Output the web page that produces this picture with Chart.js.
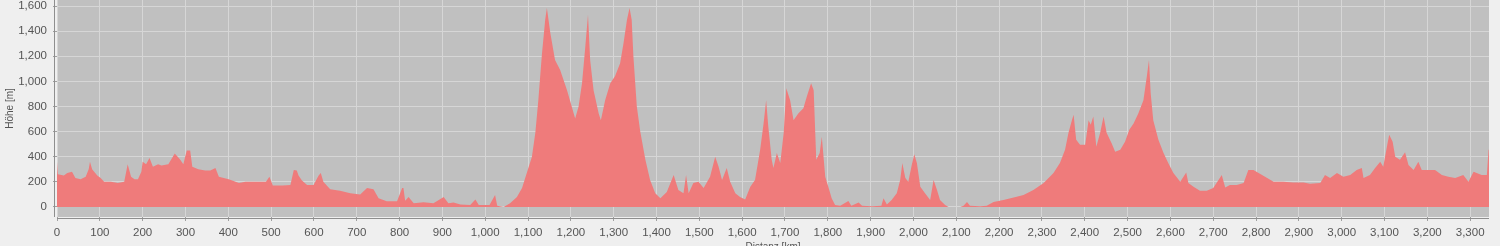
<!DOCTYPE html>
<html>
<head>
<meta charset="utf-8">
<title>Höhenprofil</title>
<script src="https://cdn.jsdelivr.net/npm/chart.js@4/dist/chart.umd.min.js"></script>
<style>
  html, body { margin: 0; padding: 0; background: #efefef; overflow: hidden; }
  canvas { display: block; }
</style>
</head>
<body>
<canvas id="chart" width="1500" height="246"></canvas>
<script>
const distKm = [
  0, 2, 16, 24, 35, 43, 55, 67, 74, 77, 82, 94, 102, 110, 126, 142, 157, 165, 173, 181,
  189, 197, 200, 208, 216, 224, 236, 244, 260, 275, 287, 295, 303, 311, 316, 330, 346, 358, 370, 378,
  401, 425, 440, 464, 488, 496, 504, 527, 545, 553, 560, 564, 572, 584, 599, 611, 616, 622, 638, 661,
  685, 708, 724, 739, 751, 770, 794, 806, 809, 813, 821, 833, 856, 879, 903, 914, 926, 942, 965, 977,
  985, 1010, 1023, 1028, 1043, 1058, 1074, 1086, 1097, 1109, 1117, 1124, 1132, 1140, 1144, 1152, 1163, 1175, 1191, 1202,
  1210, 1218, 1226, 1233, 1240, 1245, 1253, 1265, 1270, 1280, 1292, 1303, 1315, 1323, 1331, 1337, 1342, 1346, 1354, 1362,
  1374, 1385, 1397, 1409, 1424, 1440, 1451, 1463, 1469, 1475, 1486, 1498, 1510, 1525, 1537, 1545, 1553, 1564, 1572, 1584,
  1595, 1607, 1619, 1630, 1642, 1650, 1656, 1661, 1669, 1673, 1681, 1689, 1697, 1703, 1712, 1720, 1731, 1743, 1751, 1761,
  1767, 1773, 1781, 1786, 1794, 1802, 1809, 1817, 1829, 1848, 1855, 1872, 1880, 1903, 1925, 1930, 1938, 1949, 1961, 1969,
  1974, 1981, 1988, 1996, 2002, 2008, 2016, 2027, 2039, 2047, 2055, 2062, 2074, 2082, 2109, 2117, 2125, 2132, 2156, 2171,
  2187, 2210, 2234, 2257, 2280, 2304, 2327, 2342, 2354, 2362, 2370, 2374, 2380, 2389, 2401, 2409, 2414, 2420, 2427, 2436,
  2444, 2451, 2463, 2471, 2483, 2494, 2504, 2514, 2525, 2537, 2545, 2550, 2554, 2560, 2572, 2584, 2595, 2607, 2623, 2637,
  2642, 2654, 2669, 2685, 2700, 2720, 2728, 2739, 2755, 2771, 2782, 2794, 2806, 2821, 2841, 2864, 2887, 2911, 2926, 2950,
  2961, 2973, 2989, 3004, 3020, 3035, 3047, 3051, 3066, 3078, 3090, 3097, 3107, 3111, 3119, 3125, 3136, 3148, 3156, 3168,
  3179, 3187, 3203, 3218, 3234, 3249, 3265, 3284, 3296, 3308, 3327, 3339, 3343, 3344
];
const elevM = [
  360, 260, 250, 270, 280, 230, 220, 240, 300, 360, 300, 250, 230, 200, 200, 190, 200, 340, 240, 220,
  220, 280, 360, 340, 390, 320, 340, 330, 340, 425, 380, 340, 450, 450, 320, 300, 290, 290, 310, 240,
  220, 190, 200, 200, 200, 240, 170, 170, 175, 295, 290, 250, 210, 175, 175, 250, 270, 200, 140, 130,
  110, 100, 150, 140, 70, 45, 45, 150, 150, 50, 80, 30, 37, 30, 80, 30, 35, 20, 15, 60,
  15, 15, 95, 10, 0, 30, 80, 150, 270, 400, 590, 850, 1200, 1490, 1585, 1385, 1170, 1090, 930, 800,
  705, 800, 985, 1250, 1530, 1170, 930, 745, 690, 850, 985, 1040, 1145, 1305, 1490, 1585, 1490, 1200, 800, 600,
  375, 215, 110, 70, 120, 255, 135, 110, 255, 110, 190, 200, 150, 240, 400, 320, 215, 310, 200, 110,
  80, 60, 160, 215, 455, 665, 850, 640, 375, 310, 430, 350, 590, 945, 850, 690, 745, 785, 880, 985,
  930, 375, 430, 560, 240, 150, 70, 15, 10, 48, 10, 35, 10, 5, 10, 70, 20, 55, 110, 215,
  350, 230, 200, 335, 420, 350, 160, 110, 55, 215, 135, 55, 15, 0, 0, 10, 40, 10, 5, 10,
  40, 55, 75, 95, 135, 190, 270, 350, 455, 590, 690, 735, 535, 495, 495, 690, 655, 720, 480, 590,
  720, 590, 505, 440, 455, 520, 615, 665, 745, 850, 1040, 1170, 905, 690, 535, 430, 350, 270, 200, 275,
  190, 160, 130, 130, 150, 255, 155, 175, 175, 190, 295, 295, 270, 240, 200, 200, 195, 195, 185, 190,
  255, 230, 270, 240, 255, 295, 310, 230, 255, 310, 360, 320, 505, 575, 520, 400, 375, 435, 335, 295,
  360, 295, 295, 295, 255, 240, 230, 255, 200, 280, 255, 255, 455, 455
];
const xTicks = [];
for (let k = 0; k <= 3300; k += 100) xTicks.push(k);
const yTicks = [0, 200, 400, 600, 800, 1000, 1200, 1400, 1600];

const fmt = v => v.toLocaleString('en-US');
const tickFont = { family: 'Liberation Sans', size: 11.5 };

// Plot-Hintergrund und Achsenlinien
const plotFrame = {
  id: 'plotFrame',
  beforeDraw(chart) {
    const { ctx, chartArea: a } = chart;
    ctx.save();
    ctx.fillStyle = '#c0c0c0';
    ctx.fillRect(a.left, a.top, a.right - a.left, a.bottom - a.top);
    ctx.restore();
  },
  afterDraw(chart) {
    const { ctx, chartArea: a } = chart;
    ctx.save();
    ctx.strokeStyle = '#8e8e8e';
    ctx.lineWidth = 1;
    ctx.beginPath();
    ctx.moveTo(a.left - 2.5, a.top);
    ctx.lineTo(a.left - 2.5, a.bottom);
    ctx.moveTo(a.left, a.bottom + 1.5);
    ctx.lineTo(a.right, a.bottom + 1.5);
    ctx.stroke();
    ctx.restore();
  }
};

const chart = new Chart(document.getElementById('chart'), {
  type: 'line',
  data: {
    datasets: [{
      data: distKm.map((d, i) => ({ x: d, y: elevM[i] })),
      fill: 'origin',
      backgroundColor: '#ef7b7b',
      borderWidth: 0,
      pointRadius: 0,
      tension: 0
    }]
  },
  options: {
    responsive: false,
    animation: false,
    devicePixelRatio: 1,
    layout: { padding: { left: 0, right: 11, top: 0, bottom: 0 } },
    plugins: { legend: { display: false }, tooltip: { enabled: false } },
    scales: {
      x: {
        type: 'linear',
        min: 0,
        max: 3344,
        afterBuildTicks: s => { s.ticks = xTicks.map(v => ({ value: v })); },
        afterFit: s => { s.height = 29; s.paddingLeft = 0; s.paddingRight = 0; },
        grid: { color: '#d6d6d6', lineWidth: 1, tickLength: 4, tickColor: '#a0a0a0' },
        border: { display: false },
        ticks: { color: '#555', font: tickFont, padding: 5, maxRotation: 0, autoSkip: false, callback: fmt },
        title: { display: true, text: 'Distanz [km]', color: '#555', font: { family: 'Liberation Sans', size: 10 }, padding: { top: 0, bottom: -7 } }
      },
      y: {
        min: -80,
        max: 1648,
        afterBuildTicks: s => { s.ticks = yTicks.map(v => ({ value: v })); },
        afterFit: s => { s.width = 57; s.paddingTop = 0; s.paddingBottom = 0; },
        grid: { color: '#d6d6d6', lineWidth: 1, tickLength: 4, tickColor: '#a0a0a0' },
        border: { display: false },
        ticks: { color: '#555', font: tickFont, padding: 6, autoSkip: false, callback: fmt },
        title: { display: true, text: 'Höhe [m]', color: '#555', font: { family: 'Liberation Sans', size: 10 }, padding: { top: 4, bottom: 0 } }
      }
    }
  },
  plugins: [plotFrame]
});
</script>
</body>
</html>
